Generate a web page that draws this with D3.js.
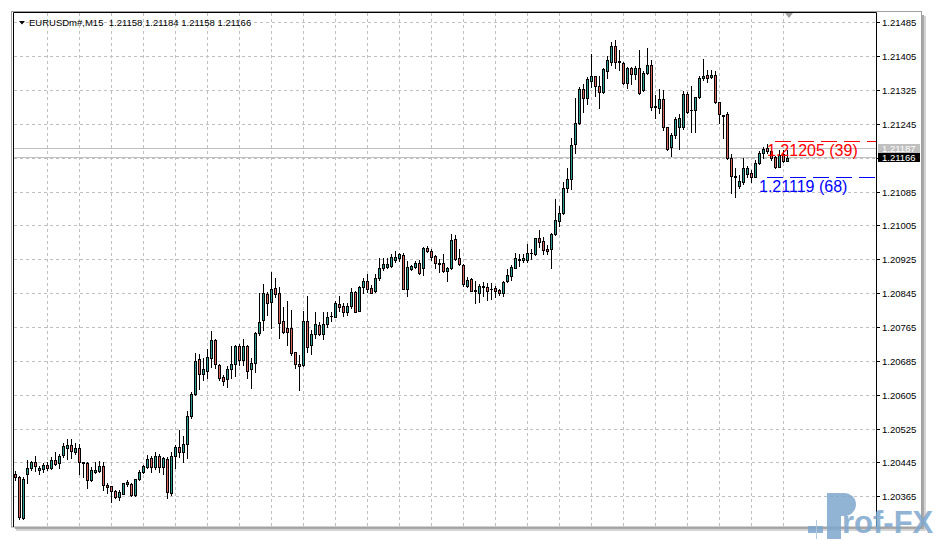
<!DOCTYPE html>
<html><head><meta charset="utf-8">
<script src="https://cdn.jsdelivr.net/npm/d3@7"></script>
<style>html,body{margin:0;padding:0;background:#fff;overflow:hidden}svg{display:block}</style>
</head><body>
<script>
const opens=[
1.20419,1.20411,1.20314,1.20419,1.20434,1.20446,1.20428,1.20430,1.20439,1.20432,
1.20451,1.20445,1.20464,1.20481,1.20487,1.20471,1.20479,1.20447,1.20444,1.20404,
1.20424,1.20426,1.20438,1.20393,1.20390,1.20378,1.20365,1.20372,1.20395,1.20395,
1.20369,1.20406,1.20424,1.20436,1.20456,1.20436,1.20461,1.20436,1.20453,1.20373,
1.20462,1.20482,1.20471,1.20489,1.20556,1.20607,1.20690,1.20654,1.20663,1.20693,
1.20735,1.20676,1.20647,1.20642,1.20666,1.20678,1.20721,1.20688,1.20721,1.20666,
1.20682,1.20751,1.20782,1.20843,1.20824,1.20859,1.20846,1.20780,1.20763,1.20763,
1.20706,1.20678,1.20676,1.20780,1.20723,1.20749,1.20771,1.20749,1.20772,1.20791,
1.20790,1.20821,1.20816,1.20802,1.20816,1.20848,1.20804,1.20860,1.20875,1.20859,
1.20851,1.20881,1.20906,1.20908,1.20911,1.20924,1.20928,1.20936,1.20857,1.20902,
1.20907,1.20918,1.20905,1.20952,1.20946,1.20934,1.20917,1.20917,1.20899,1.20905,
1.20973,1.20928,1.20912,1.20864,1.20879,1.20852,1.20847,1.20860,1.20860,1.20855,
1.20859,1.20854,1.20846,1.20875,1.20887,1.20906,1.20924,1.20924,1.20925,1.20940,
1.20939,1.20976,1.20970,1.20950,1.20950,1.20985,1.21017,1.21035,1.21094,1.21115,
1.21198,1.21247,1.21328,1.21306,1.21348,1.21359,1.21335,1.21322,1.21371,1.21393,
1.21430,1.21395,1.21390,1.21343,1.21379,1.21364,1.21377,1.21326,1.21365,1.21385,
1.21285,1.21283,1.21305,1.21238,1.21191,1.21220,1.21239,1.21238,1.21316,1.21278,
1.21279,1.21309,1.21354,1.21361,1.21356,1.21361,1.21297,1.21267,1.21269,1.21165,
1.21121,1.21098,1.21109,1.21127,1.21129,1.21121,1.21153,1.21176,1.21190,1.21182,
1.21168,1.21145,1.21174,1.21158];
const highs=[
1.20426,1.20413,1.20411,1.20452,1.20450,1.20461,1.20438,1.20444,1.20448,1.20458,
1.20471,1.20467,1.20493,1.20501,1.20501,1.20491,1.20489,1.20448,1.20446,1.20436,
1.20446,1.20449,1.20447,1.20397,1.20391,1.20381,1.20380,1.20398,1.20404,1.20397,
1.20407,1.20428,1.20440,1.20463,1.20462,1.20471,1.20465,1.20459,1.20459,1.20471,
1.20487,1.20523,1.20508,1.20568,1.20613,1.20704,1.20702,1.20692,1.20713,1.20756,
1.20738,1.20678,1.20652,1.20674,1.20721,1.20723,1.20726,1.20737,1.20723,1.20692,
1.20755,1.20847,1.20867,1.20849,1.20897,1.20881,1.20861,1.20814,1.20827,1.20806,
1.20707,1.20700,1.20804,1.20839,1.20759,1.20801,1.20777,1.20801,1.20802,1.20801,
1.20827,1.20839,1.20822,1.20822,1.20859,1.20851,1.20863,1.20881,1.20891,1.20865,
1.20891,1.20930,1.20930,1.20930,1.20938,1.20946,1.20940,1.20940,1.20922,1.20912,
1.20923,1.20924,1.20956,1.20957,1.20950,1.20935,1.20926,1.20938,1.20908,1.20986,
1.20983,1.20950,1.20915,1.20885,1.20882,1.20875,1.20867,1.20873,1.20871,1.20869,
1.20864,1.20857,1.20875,1.20902,1.20912,1.20940,1.20938,1.20938,1.20961,1.20950,
1.20977,1.20995,1.20979,1.20960,1.20987,1.21068,1.21052,1.21109,1.21142,1.21212,
1.21308,1.21334,1.21339,1.21357,1.21410,1.21360,1.21359,1.21379,1.21406,1.21440,
1.21444,1.21420,1.21391,1.21381,1.21381,1.21383,1.21420,1.21371,1.21425,1.21397,
1.21314,1.21328,1.21326,1.21239,1.21224,1.21263,1.21269,1.21324,1.21322,1.21335,
1.21310,1.21360,1.21399,1.21373,1.21373,1.21372,1.21298,1.21268,1.21275,1.21174,
1.21141,1.21125,1.21165,1.21146,1.21137,1.21161,1.21182,1.21192,1.21198,1.21184,
1.21170,1.21184,1.21184,1.21184];
const lows=[
1.20404,1.20313,1.20312,1.20398,1.20428,1.20426,1.20419,1.20424,1.20428,1.20430,
1.20439,1.20432,1.20459,1.20453,1.20457,1.20466,1.20419,1.20412,1.20385,1.20403,
1.20422,1.20423,1.20382,1.20373,1.20353,1.20361,1.20357,1.20371,1.20390,1.20367,
1.20367,1.20404,1.20422,1.20432,1.20424,1.20430,1.20424,1.20418,1.20361,1.20369,
1.20432,1.20459,1.20448,1.20456,1.20552,1.20605,1.20619,1.20641,1.20645,1.20672,
1.20668,1.20641,1.20629,1.20625,1.20645,1.20650,1.20676,1.20676,1.20645,1.20622,
1.20660,1.20747,1.20759,1.20794,1.20763,1.20837,1.20741,1.20751,1.20723,1.20701,
1.20668,1.20617,1.20674,1.20706,1.20702,1.20739,1.20747,1.20737,1.20767,1.20780,
1.20789,1.20804,1.20793,1.20794,1.20812,1.20801,1.20803,1.20846,1.20848,1.20846,
1.20848,1.20877,1.20901,1.20905,1.20908,1.20920,1.20922,1.20856,1.20840,1.20901,
1.20905,1.20891,1.20890,1.20944,1.20924,1.20905,1.20895,1.20897,1.20875,1.20903,
1.20924,1.20912,1.20864,1.20861,1.20851,1.20822,1.20826,1.20839,1.20831,1.20832,
1.20836,1.20842,1.20839,1.20872,1.20877,1.20905,1.20911,1.20920,1.20920,1.20927,
1.20936,1.20956,1.20938,1.20938,1.20905,1.20983,1.21005,1.21033,1.21084,1.21091,
1.21176,1.21245,1.21273,1.21292,1.21332,1.21312,1.21283,1.21320,1.21354,1.21385,
1.21377,1.21373,1.21339,1.21331,1.21339,1.21352,1.21316,1.21324,1.21363,1.21279,
1.21260,1.21271,1.21231,1.21184,1.21171,1.21212,1.21187,1.21235,1.21271,1.21227,
1.21227,1.21306,1.21350,1.21346,1.21354,1.21295,1.21249,1.21212,1.21163,1.21082,
1.21074,1.21094,1.21105,1.21120,1.21108,1.21120,1.21150,1.21165,1.21178,1.21161,
1.21141,1.21144,1.21156,1.21158];
const closes=[
1.20411,1.20316,1.20408,1.20432,1.20446,1.20438,1.20434,1.20440,1.20432,1.20451,
1.20442,1.20461,1.20485,1.20487,1.20472,1.20480,1.20448,1.20444,1.20404,1.20428,
1.20428,1.20438,1.20392,1.20389,1.20378,1.20365,1.20377,1.20397,1.20400,1.20369,
1.20406,1.20424,1.20438,1.20453,1.20436,1.20461,1.20436,1.20456,1.20377,1.20462,
1.20482,1.20471,1.20489,1.20556,1.20608,1.20686,1.20654,1.20667,1.20694,1.20735,
1.20678,1.20645,1.20639,1.20666,1.20678,1.20721,1.20688,1.20721,1.20663,1.20682,
1.20751,1.20777,1.20846,1.20822,1.20855,1.20844,1.20775,1.20755,1.20755,1.20704,
1.20678,1.20675,1.20780,1.20719,1.20749,1.20772,1.20749,1.20773,1.20789,1.20792,
1.20823,1.20814,1.20802,1.20816,1.20848,1.20802,1.20860,1.20875,1.20855,1.20847,
1.20882,1.20906,1.20915,1.20915,1.20931,1.20931,1.20938,1.20857,1.20908,1.20910,
1.20917,1.20893,1.20952,1.20946,1.20932,1.20917,1.20916,1.20899,1.20905,1.20972,
1.20927,1.20914,1.20867,1.20877,1.20852,1.20853,1.20863,1.20863,1.20852,1.20857,
1.20851,1.20846,1.20872,1.20889,1.20907,1.20928,1.20927,1.20929,1.20942,1.20941,
1.20976,1.20967,1.20948,1.20946,1.20985,1.21019,1.21035,1.21094,1.21115,1.21196,
1.21247,1.21328,1.21306,1.21352,1.21359,1.21335,1.21322,1.21376,1.21397,1.21430,
1.21393,1.21391,1.21343,1.21379,1.21364,1.21377,1.21318,1.21365,1.21385,1.21285,
1.21288,1.21305,1.21238,1.21187,1.21220,1.21257,1.21260,1.21316,1.21275,1.21279,
1.21309,1.21355,1.21359,1.21355,1.21361,1.21297,1.21269,1.21265,1.21165,1.21123,
1.21123,1.21111,1.21141,1.21142,1.21121,1.21153,1.21176,1.21186,1.21182,1.21165,
1.21143,1.21172,1.21158,1.21166];

const priceTicks=[1.21485,1.21405,1.21325,1.21245,1.21165,1.21085,1.21005,1.20925,1.20845,1.20765,1.20685,1.20605,1.20525,1.20445,1.20365,1.20285];
const headerText="EURUSDm#,M15  1.21158 1.21184 1.21158 1.21166";
const quotePrices=[1.21187,1.21166];          // ask, bid
const quoteFills=["#c0c0c0","#000000"];
const levelPrices=[1.21205,1.21119];
const levelLabels=["1.21205 (39)","1.21119 (68)"];
const levelColors=["#ff0000","#0000ff"];
const levelStartBar=[190,188];

const W=935,H=539;
const svg=d3.select("body").append("svg").attr("width",W).attr("height",H);
const fontF="'Liberation Sans', Arial, sans-serif";

const x=d3.scaleLinear().domain([0,193]).range([15,787]);
const y=d3.scaleLinear().domain([1.20285,1.21485]).range([530.6,22.7]);
const gy=v=>Math.floor(y(v))+0.5;

// panel shadow
svg.append("rect").attr("x",922).attr("y",15).attr("width",2).attr("height",515).attr("fill","#a8a8a8");
svg.append("rect").attr("x",924).attr("y",16).attr("width",2).attr("height",515).attr("fill","#d4d4d4");
svg.append("rect").attr("x",15).attr("y",527).attr("width",909).attr("height",2).attr("fill","#a8a8a8");
svg.append("rect").attr("x",16).attr("y",529).attr("width",910).attr("height",2).attr("fill","#d4d4d4");
// panel
svg.append("rect").attr("x",11.5).attr("y",11.5).attr("width",910).attr("height",515.5)
  .attr("fill","#fff").attr("stroke","#a0a0a0");

const defs=svg.append("defs");
defs.append("clipPath").attr("id","plot").append("rect").attr("x",14).attr("y",13).attr("width",862).attr("height",514);
defs.append("clipPath").attr("id","panel").append("rect").attr("x",12).attr("y",12).attr("width",910).attr("height",515);

const plot=svg.append("g").attr("clip-path","url(#plot)");

// vertical grid
const vIdx=d3.range(8,194,8);
plot.selectAll("line.vg").data(vIdx).join("line").attr("class","vg")
  .attr("x1",d=>Math.round(x(d))+0.5).attr("x2",d=>Math.round(x(d))+0.5)
  .attr("y1",13).attr("y2",527).attr("stroke","#c0c0c0").attr("stroke-dasharray","3,3");
// horizontal grid
plot.selectAll("line.hg").data(priceTicks).join("line").attr("class","hg")
  .attr("x1",14).attr("x2",876).attr("y1",d=>gy(d)).attr("y2",d=>gy(d))
  .attr("stroke","#c0c0c0").attr("stroke-dasharray","3,3");

// bid / ask lines
plot.selectAll("line.q").data(quotePrices).join("line").attr("class","q")
  .attr("x1",14).attr("x2",876).attr("y1",d=>gy(d)).attr("y2",d=>gy(d))
  .attr("stroke","#c0c0c0");

// level lines (behind candles)
levelPrices.forEach((p,k)=>{
  plot.append("line").attr("x1",Math.round(x(levelStartBar[k]))).attr("x2",877)
    .attr("y1",gy(p)).attr("y2",gy(p))
    .style("stroke",levelColors[k]).style("stroke-width","1px").style("stroke-dasharray","16,7");
});

// candles
const bars=d3.range(opens.length).map(i=>({i,o:opens[i],h:highs[i],l:lows[i],c:closes[i]}));
const cg=plot.append("g");
bars.forEach(b=>{
  const px=Math.round(x(b.i));
  const yh=Math.round(y(b.h)), yl=Math.round(y(b.l));
  const yo=Math.round(y(b.o)), yc=Math.round(y(b.c));
  cg.append("line").attr("x1",px+0.5).attr("x2",px+0.5).attr("y1",yh).attr("y2",yl+1)
    .attr("stroke","#000").attr("stroke-width",1);
  const top=Math.min(yo,yc), bot=Math.max(yo,yc);
  if(bot-top<1){
    cg.append("line").attr("x1",px-1).attr("x2",px+2).attr("y1",top+0.5).attr("y2",top+0.5)
      .attr("stroke","#000");
  } else {
    cg.append("rect").attr("x",px-0.5).attr("y",top+0.5).attr("width",2).attr("height",bot-top)
      .attr("fill",b.c>=b.o?"#2a9e92":"#d8665c").attr("stroke","#000").attr("stroke-width",1);
  }
});

// level labels
levelPrices.forEach((p,k)=>{
  plot.append("text").attr("x",k===0?767:759).attr("y",y(p)+14.5)
    .attr("font-family",fontF).attr("font-size","16px").attr("fill",levelColors[k]).text(levelLabels[k]);
});

// frame lines
svg.append("path").attr("d","M13.5,527 V12.5 H876.5 V527").attr("fill","none").attr("stroke","#000");

// axis ticks & labels (labels under the quote boxes are hidden)
const ax=svg.append("g").attr("clip-path","url(#panel)");
const visibleTicks=priceTicks.filter(t=>quotePrices.every(q=>Math.abs(gy(q)-gy(t))>8));
ax.selectAll("line.t").data(priceTicks).join("line").attr("class","t")
  .attr("x1",877).attr("x2",880).attr("y1",d=>gy(d)).attr("y2",d=>gy(d)).attr("stroke","#000");
ax.selectAll("text.t").data(visibleTicks).join("text").attr("class","t")
  .attr("x",882).attr("y",d=>gy(d)+3.5).attr("font-family",fontF).attr("font-size","9.5px")
  .attr("fill","#000").text(d=>d.toFixed(5));

// quote boxes
quotePrices.forEach((p,k)=>{
  const cy=gy(p);
  ax.append("rect").attr("x",878).attr("y",cy-4.5).attr("width",42).attr("height",9).attr("fill",quoteFills[k]);
  ax.append("text").attr("x",882).attr("y",cy+3.5).attr("font-family",fontF).attr("font-size","9.5px")
    .attr("fill","#fff").text(p.toFixed(5));
});

// header
svg.append("path").attr("d","M19,21 L25,21 L22,24.5 Z").attr("fill","#000");
svg.append("text").attr("x",29).attr("y",26).attr("font-family",fontF).attr("font-size","9.5px")
  .style("white-space","pre").attr("fill","#000").text(headerText);
// shift marker
svg.append("path").attr("d","M785,13 L793,13 L789,18 Z").attr("fill","#a0a0a0");

// logo
const logoC="#7fa7cd";
const lgo=svg.append("g").attr("opacity",0.85);
lgo.append("rect").attr("x",808).attr("y",526).attr("width",15).attr("height",7).attr("fill",logoC);
lgo.append("line").attr("x1",816.5).attr("x2",816.5).attr("y1",520).attr("y2",539).attr("stroke","#a9c3dc");
lgo.append("line").attr("x1",833.5).attr("x2",833.5).attr("y1",530).attr("y2",539).attr("stroke","#a9c3dc");
lgo.append("rect").attr("x",827).attr("y",493).attr("width",14).attr("height",46).attr("fill",logoC);
lgo.append("path").attr("d","M841,493 L844,493 A12,11.5 0 0 1 844,516 L841,516 Z").attr("fill",logoC);
lgo.append("text").attr("x",842).attr("y",533).attr("font-family",fontF).attr("font-weight","bold")
  .attr("font-size","31px").attr("fill",logoC).text("rof-FX");
</script>
</body></html>
